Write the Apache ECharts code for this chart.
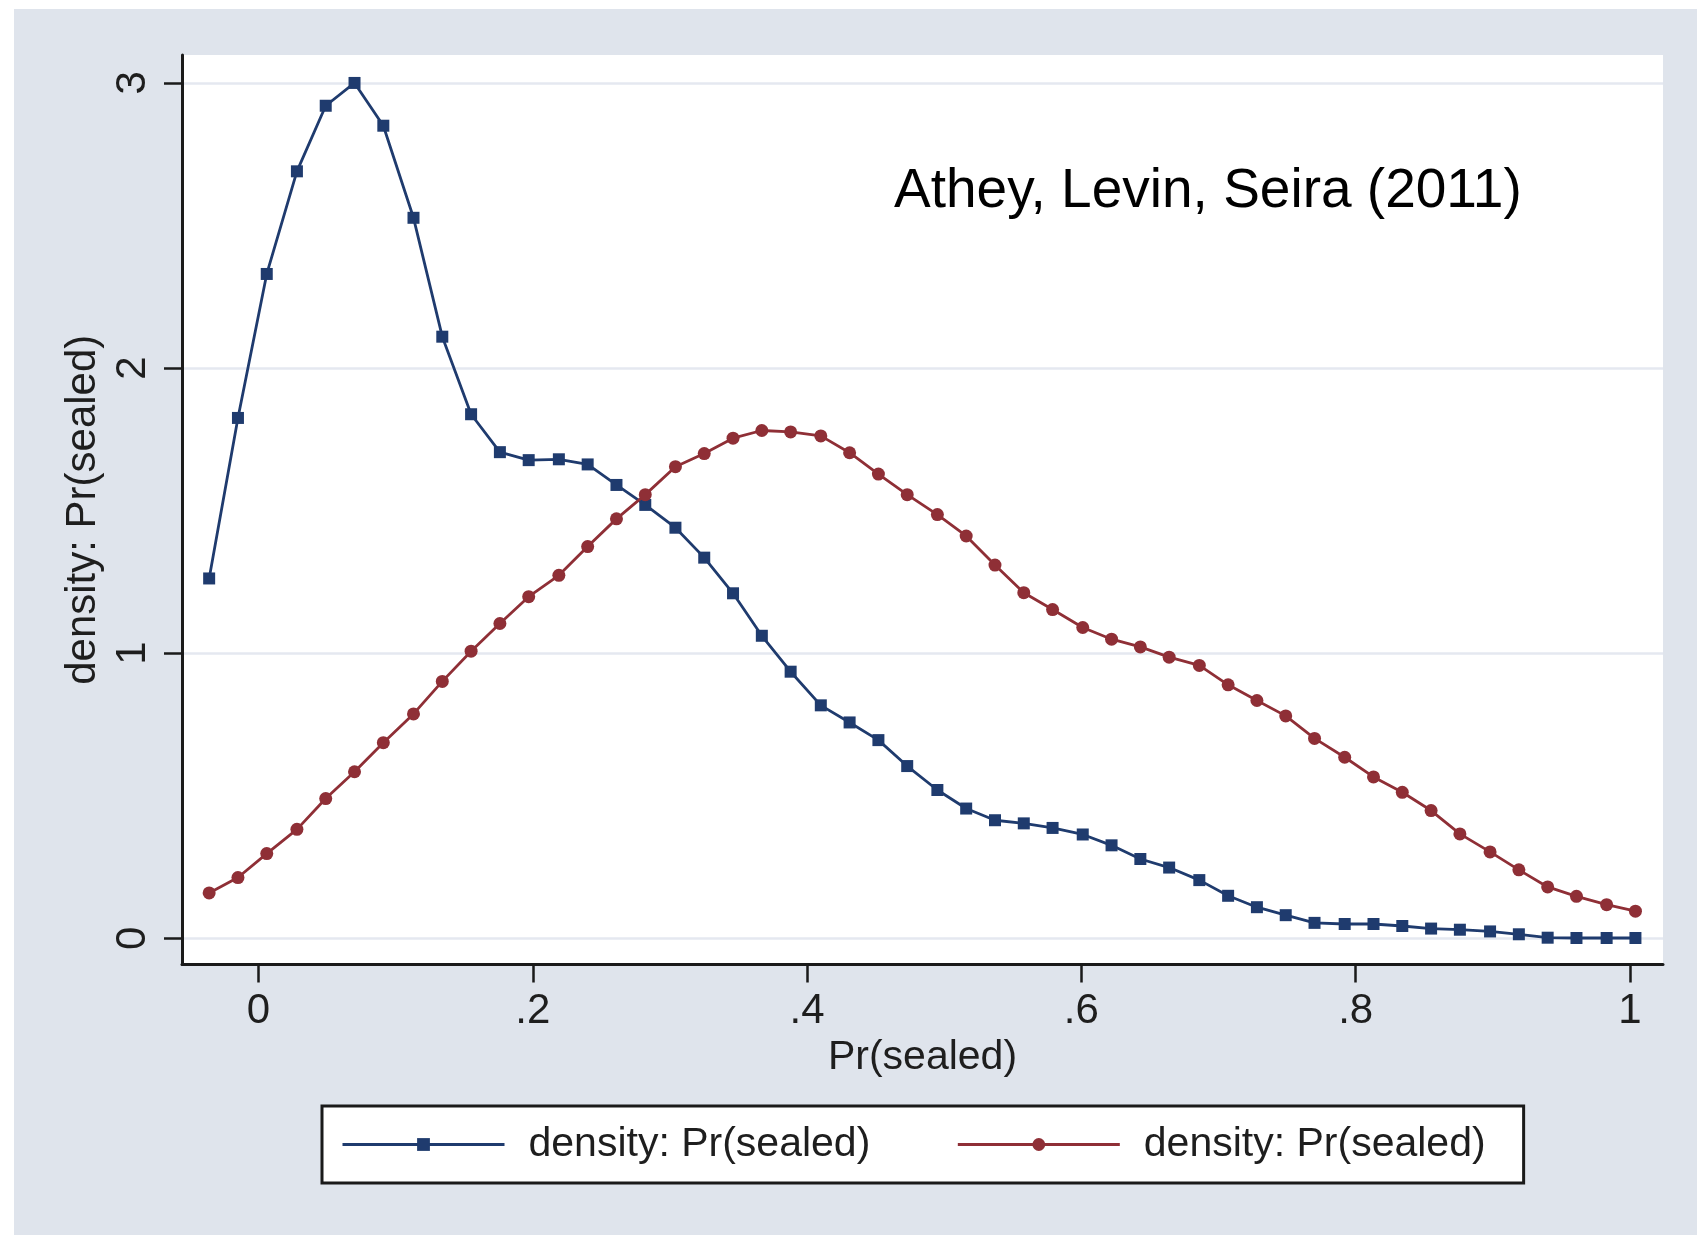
<!DOCTYPE html>
<html>
<head>
<meta charset="utf-8">
<script src="https://cdn.jsdelivr.net/npm/echarts@6/dist/echarts.min.js"></script>
<style>
  html, body { margin: 0; padding: 0; background: #ffffff; }
  #chart { width: 1697px; height: 1235px; }
</style>
</head>
<body>
<div id="chart"></div>
<script>
// Evaluation points of the density estimates (Pr(sealed))
const xValues = [
  -0.036, -0.015, 0.006, 0.028, 0.049, 0.070, 0.091, 0.113, 0.134, 0.155,
  0.176, 0.197, 0.219, 0.240, 0.261, 0.282, 0.304, 0.325, 0.346, 0.367,
  0.388, 0.410, 0.431, 0.452, 0.473, 0.495, 0.516, 0.537, 0.558, 0.579,
  0.601, 0.622, 0.643, 0.664, 0.686, 0.707, 0.728, 0.749, 0.770, 0.792,
  0.813, 0.834, 0.855, 0.876, 0.898, 0.919, 0.940, 0.961, 0.983, 1.004
];
// First density (navy)
const densityBlue = [
  1.262, 1.825, 2.330, 2.690, 2.920, 3.000, 2.850, 2.527, 2.110, 1.838,
  1.705, 1.677, 1.680, 1.662, 1.590, 1.520, 1.440, 1.335, 1.210, 1.061,
  0.935, 0.817, 0.757, 0.695, 0.604, 0.520, 0.455, 0.414, 0.403, 0.387,
  0.364, 0.326, 0.278, 0.248, 0.204, 0.149, 0.109, 0.081, 0.054, 0.050,
  0.050, 0.043, 0.034, 0.030, 0.024, 0.014, 0.002, 0.001, 0.001, 0.001
];
// Second density (maroon)
const densityRed = [
  0.159, 0.213, 0.297, 0.382, 0.490, 0.584, 0.686, 0.787, 0.901, 1.007,
  1.104, 1.198, 1.273, 1.374, 1.471, 1.556, 1.654, 1.700, 1.754, 1.781,
  1.776, 1.762, 1.703, 1.628, 1.556, 1.486, 1.411, 1.309, 1.212, 1.153,
  1.090, 1.049, 1.022, 0.986, 0.957, 0.889, 0.834, 0.780, 0.701, 0.635,
  0.566, 0.512, 0.448, 0.366, 0.303, 0.240, 0.180, 0.147, 0.118, 0.095
];
const seriesNames = ['density: Pr(sealed)', 'density: Pr(sealed)'];
const xTickValues = [0, 0.2, 0.4, 0.6, 0.8, 1];
const xTickLabels = ['0', '.2', '.4', '.6', '.8', '1'];
const yTickValues = [0, 1, 2, 3];
const yTickLabels = ['0', '1', '2', '3'];
const xTitle = 'Pr(sealed)';
const yTitle = 'density: Pr(sealed)';
const annotation = 'Athey, Levin, Seira (2011)';

const pairs = (ys) => xValues.map((x, i) => [x, ys[i]]);
const labelFor = (vals, labels) => (v) => {
  const i = vals.findIndex(t => Math.abs(t - v) < 1e-9);
  return i >= 0 ? labels[i] : '';
};

const FONT = '"Liberation Sans", Arial, Helvetica, sans-serif';
const TEXT = '#1e1e1e';
const AXIS = '#1a1a1a';
const BLUE = '#1f3b6e';
const RED = '#8f2f36';

const chart = echarts.init(document.getElementById('chart'), null, { renderer: 'canvas' });
chart.setOption({
  animation: false,
  backgroundColor: '#ffffff',
  textStyle: { fontFamily: FONT },
  graphic: [
    {
      type: 'rect', z: -100, silent: true,
      shape: { x: 14, y: 9, width: 1697, height: 1235 },
      style: { fill: '#dfe4ec' }
    },
    {
      type: 'text', z: 100, silent: true,
      style: {
        x: 894, y: 192, text: annotation,
        font: '55px ' + FONT, fill: '#000000',
        textAlign: 'left', textVerticalAlign: 'middle', verticalAlign: 'middle'
      }
    }
  ],
  grid: {
    left: 182, top: 55, right: 34, bottom: 270.5,
    show: true, backgroundColor: '#ffffff', borderWidth: 0
  },
  xAxis: {
    type: 'value',
    min: -0.0558, max: 1.0241,
    name: xTitle, nameLocation: 'middle', nameGap: 70,
    nameTextStyle: { fontSize: 41, color: TEXT, fontFamily: FONT },
    axisLine: { show: true, onZero: false, lineStyle: { color: AXIS, width: 3 } },
    axisTick: { show: true, inside: false, length: 18, customValues: xTickValues,
                lineStyle: { color: AXIS, width: 2.5 } },
    axisLabel: { show: true, customValues: xTickValues, margin: 26,
                 fontSize: 42, color: TEXT, fontFamily: FONT,
                 formatter: labelFor(xTickValues, xTickLabels) },
    splitLine: { show: false }
  },
  yAxis: {
    type: 'value',
    min: -0.092, max: 3.098,
    name: yTitle, nameLocation: 'middle', nameGap: 76, nameRotate: 90,
    nameTextStyle: { fontSize: 42, color: TEXT, fontFamily: FONT },
    axisLine: { show: true, onZero: false, lineStyle: { color: AXIS, width: 3 } },
    axisTick: { show: true, inside: false, length: 18, customValues: yTickValues,
                lineStyle: { color: AXIS, width: 2.5 } },
    axisLabel: { show: true, customValues: yTickValues, margin: 28, rotate: 90,
                 fontSize: 42, color: TEXT, fontFamily: FONT,
                 formatter: labelFor(yTickValues, yTickLabels) },
    splitLine: { show: true, lineStyle: { color: '#e5e8f0', width: 2.5 } }
  },
  legend: {
    show: true,
    left: 322, top: 1106,
    orient: 'horizontal',
    backgroundColor: '#ffffff',
    borderColor: '#1a1a1a', borderWidth: 3, borderRadius: 0,
    padding: [18, 38, 18, 19],
    itemGap: 86,
    itemWidth: 162, itemHeight: 16,
    lineStyle: { width: 3 },
    textStyle: { fontSize: 41, color: TEXT, fontFamily: FONT, padding: [0, 0, 0, 19] },
    data: ['blue', 'red'],
    formatter: (n) => n === 'blue' ? seriesNames[0] : seriesNames[1]
  },
  series: [
    {
      name: 'blue', type: 'line', data: pairs(densityBlue),
      symbol: 'rect', symbolSize: 12, showSymbol: true,
      lineStyle: { color: BLUE, width: 2.8 },
      itemStyle: { color: BLUE },
      z: 3
    },
    {
      name: 'red', type: 'line', data: pairs(densityRed),
      symbol: 'circle', symbolSize: 13, showSymbol: true,
      lineStyle: { color: RED, width: 2.8 },
      itemStyle: { color: RED },
      z: 4
    }
  ]
});
</script>
</body>
</html>
